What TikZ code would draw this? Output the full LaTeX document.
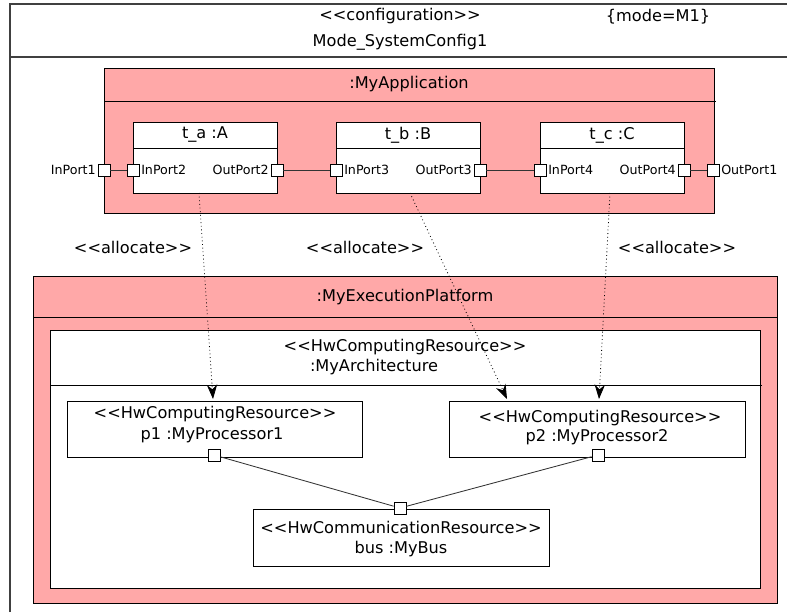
\documentclass[tikz,border=0pt]{standalone}
\usepackage{fontspec}
\setmainfont{DejaVu Sans}
\usetikzlibrary{arrows.meta}
\definecolor{apppink}{RGB}{255,168,168}
\newcommand{\stereo}[1]{<{}<#1>{}>}

\begin{document}
\begin{tikzpicture}[x=0.025cm,y=-0.025cm,line width=0.6pt,
  font=\fontsize{11.5}{13.5}\selectfont,
  port/.style={draw,fill=white,inner sep=0pt,minimum size=3mm},
  portlabel/.style={font=\fontsize{9}{11}\selectfont,inner sep=1pt},
  wire/.style={draw=black!80},
  alloc/.style={dotted,-{Stealth[length=3.6mm,width=2.6mm]}}]
\useasboundingbox (0,0) rectangle (787,612);

% configuration frame
\draw[black!75,line width=0.8pt] (10,612) -- (10,4) -- (787,4);
\draw[black!75,line width=0.8pt] (10,57) -- (787,57);
\node (cfgst) at (400,16) {\stereo{configuration}};
\node (cfgname) at (400,42) {Mode\_SystemConfig1};
\node (cfgmode) at (658,17) {\{mode=M1\}};

% application
\draw[fill=apppink] (104,68) rectangle (714,213);
\draw (104,101) -- (716,101);
\node (app) at (409,84) {:MyApplication};

\draw[fill=white] (133,122) rectangle (277,193);
\draw (133,148) -- (277,148);
\node (ta) at (205,135) {t\_a :A};

\draw[fill=white] (336,122) rectangle (480,193);
\draw (336,148) -- (480,148);
\node (tb) at (408,135) {t\_b :B};

\draw[fill=white] (540,122) rectangle (684,193);
\draw (540,148) -- (684,148);
\node (tc) at (612,135) {t\_c :C};

% ports
\node[port] (inport1) at (104,170) {};
\node[port] (inport2) at (133,170) {};
\node[port] (outport2) at (277,170) {};
\node[port] (inport3) at (336,170) {};
\node[port] (outport3) at (480,170) {};
\node[port] (inport4) at (540,170) {};
\node[port] (outport4) at (684,170) {};
\node[port] (outport1) at (713,170) {};

\node[portlabel,anchor=east] at (inport1.west) {InPort1};
\node[portlabel,anchor=west] at (inport2.east) {InPort2};
\node[portlabel,anchor=east] at (outport2.west) {OutPort2};
\node[portlabel,anchor=west] at (inport3.east) {InPort3};
\node[portlabel,anchor=east] at (outport3.west) {OutPort3};
\node[portlabel,anchor=west] at (inport4.east) {InPort4};
\node[portlabel,anchor=east] at (outport4.west) {OutPort4};
\node[portlabel,anchor=west] at (outport1.east) {OutPort1};

\draw[wire] (inport1) -- (inport2);
\draw[wire] (outport2) -- (inport3);
\draw[wire] (outport3) -- (inport4);
\draw[wire] (outport4) -- (outport1);

% execution platform
\draw[fill=apppink] (33,276) rectangle (777,603);
\draw (33,317) -- (777,317);
\node (exec) at (405,297) {:MyExecutionPlatform};

\draw[fill=white] (50,330) rectangle (760,588);
\draw (50,385) -- (762,385);
\node (archst) at (405,347) {\stereo{HwComputingResource}};
\node (arch) at (374,367) {:MyArchitecture};

\draw[fill=white] (67,401) rectangle (362,457);
\node (p1st) at (215,414) {\stereo{HwComputingResource}};
\node (p1) at (212,435) {p1 :MyProcessor1};

\draw[fill=white] (449,401) rectangle (745,457);
\node (p2st) at (600,418) {\stereo{HwComputingResource}};
\node (p2) at (597,437) {p2 :MyProcessor2};

\draw[fill=white] (253,509) rectangle (549,566);
\node (busst) at (401,527) {\stereo{HwCommunicationResource}};
\node (bus) at (401,549) {bus :MyBus};

\node[port] (p1port) at (214,455) {};
\node[port] (p2port) at (598,455) {};
\node[port] (busport) at (400,508) {};
\draw[wire] (p1port) -- (busport);
\draw[wire] (p2port) -- (busport);

% allocations
\node (alloca) at (133,247) {\stereo{allocate}};
\node (allocb) at (365,247) {\stereo{allocate}};
\node (allocc) at (677,247) {\stereo{allocate}};

\coordinate (ta-out) at (199,193);
\coordinate (tb-out) at (410,193);
\coordinate (tc-out) at (610,193);
\coordinate (p1-in) at (213,399);
\coordinate (p2-ina) at (507,399);
\coordinate (p2-inb) at (599,399);
\draw[alloc] (ta-out) -- (p1-in);
\draw[alloc] (tb-out) -- (p2-ina);
\draw[alloc] (tc-out) -- (p2-inb);
\end{tikzpicture}
\end{document}
